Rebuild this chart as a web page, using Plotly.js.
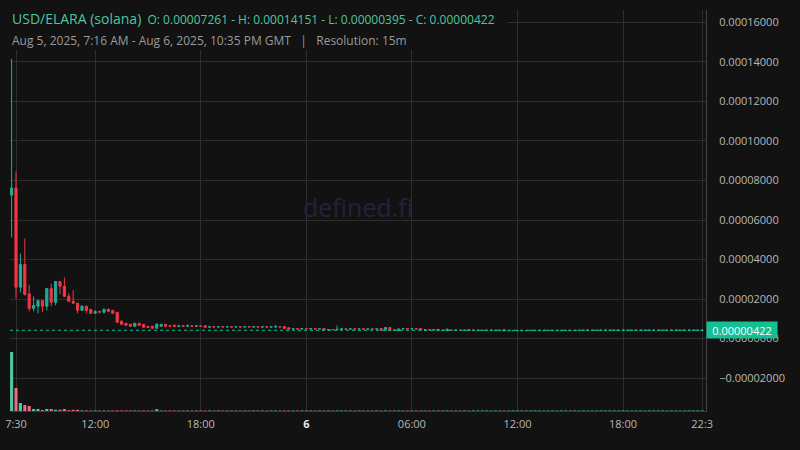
<!DOCTYPE html>
<html><head><meta charset="utf-8">
<script src="https://cdn.plot.ly/plotly-3.0.1.min.js"></script>
<style>html,body{margin:0;padding:0;background:#121212;}#chart{width:800px;height:450px;}</style>
</head><body><div id="chart"></div>
<script>
// 15-minute candles, Aug 5 2025 07:15 GMT onward
const firstCandle = Date.UTC(2025, 7, 5, 7, 15);
const resolutionMinutes = 15;

const openP = [
7.261e-5,7.62e-5,2.60e-5,3.75e-5,2.26e-5,1.53e-5,1.64e-5,1.92e-5,1.64e-5,2.53e-5,
1.84e-5,2.89e-5,2.65e-5,2.14e-5,1.89e-5,1.79e-5,1.43e-5,1.64e-5,1.48e-5,1.28e-5,
1.36e-5,1.33e-5,1.48e-5,1.43e-5,1.33e-5,8.76e-6,7.75e-6,7.24e-6,6.23e-6,7.75e-6,
7.24e-6,6.2e-6,6.23e-6,5.21e-6,6.23e-6,7.24e-6,6.5e-6,6.7e-6,6.3e-6,6.5e-6,
6.3e-6,6.5e-6,6.3e-6,6.4e-6,6.5e-6,5.8e-6,6.0e-6,5.9e-6,6.0e-6,5.9e-6,
6.0e-6,5.9e-6,6.0e-6,5.9e-6,6.0e-6,5.9e-6,6.0e-6,5.9e-6,5.95e-6,5.85e-6,
5.9e-6,6.0e-6,6.1e-6,5.5e-6,4.8e-6,5.0e-6,4.9e-6,5.0e-6,4.9e-6,5.0e-6,
4.9e-6,5.1e-6,4.4e-6,4.6e-6,4.5e-6,4.8e-6,4.9e-6,4.8e-6,4.9e-6,4.8e-6,
4.9e-6,4.8e-6,4.9e-6,4.8e-6,5.1e-6,4.3e-6,5.6e-6,4.2e-6,4.0e-6,4.9e-6,
5.0e-6,4.9e-6,5.0e-6,5.1e-6,4.4e-6,4.5e-6,4.4e-6,4.7e-6,4.1e-6,4.0e-6,
4.3e-6,4.2e-6,4.25e-6,4.2e-6,4.6e-6,4.15e-6,4.15e-6,4.15e-6,4.15e-6,4.15e-6,
4.15e-6,4.15e-6,4.5e-6,4.0e-6,4.0e-6,4.0e-6,4.15e-6,4.0e-6,4.05e-6,4.05e-6,
4.05e-6,4.05e-6,4.05e-6,4.05e-6,4.05e-6,4.05e-6,4.05e-6,4.2e-6,4.05e-6,4.15e-6,
4.2e-6,4.2e-6,4.2e-6,4.2e-6,4.2e-6,4.2e-6,4.2e-6,4.2e-6,4.2e-6,4.2e-6,
4.2e-6,4.2e-6,4.2e-6,4.2e-6,4.2e-6,4.2e-6,4.2e-6,4.2e-6,4.2e-6,4.2e-6,
4.2e-6,4.2e-6,4.2e-6,4.2e-6,4.2e-6,4.2e-6,4.2e-6,4.2e-6
];
const highP = [
1.4151e-4,8.46e-5,4.30e-5,5.06e-5,2.73e-5,2.13e-5,1.97e-5,1.94e-5,2.55e-5,2.78e-5,
2.91e-5,2.91e-5,3.09e-5,2.29e-5,2.45e-5,1.80e-5,1.69e-5,1.65e-5,1.49e-5,1.43e-5,
1.42e-5,1.53e-5,1.53e-5,1.44e-5,1.34e-5,9.27e-6,7.8e-6,7.3e-6,7.8e-6,7.8e-6,
7.3e-6,6.3e-6,6.3e-6,7.75e-6,7.3e-6,7.3e-6,6.6e-6,7.2e-6,6.6e-6,6.6e-6,
7.2e-6,6.6e-6,6.5e-6,6.5e-6,6.6e-6,6.1e-6,6.1e-6,6.1e-6,6.1e-6,6.1e-6,
6.1e-6,6.1e-6,6.1e-6,6.1e-6,6.1e-6,6.1e-6,6.1e-6,6.0e-6,6.0e-6,6.0e-6,
6.9e-6,6.1e-6,6.2e-6,5.6e-6,5.1e-6,5.1e-6,5.1e-6,5.1e-6,5.1e-6,5.1e-6,
5.1e-6,5.2e-6,4.7e-6,4.7e-6,6.6e-6,5.0e-6,5.0e-6,5.0e-6,5.0e-6,5.0e-6,
5.0e-6,5.0e-6,5.0e-6,5.0e-6,5.2e-6,5.7e-6,5.7e-6,4.4e-6,5.0e-6,5.1e-6,
5.1e-6,5.1e-6,5.1e-6,5.2e-6,4.6e-6,4.6e-6,4.6e-6,4.8e-6,4.3e-6,4.9e-6,
4.4e-6,4.3e-6,4.3e-6,4.3e-6,4.7e-6,4.25e-6,4.25e-6,4.25e-6,4.25e-6,4.25e-6,
4.25e-6,4.25e-6,4.6e-6,4.15e-6,4.15e-6,4.15e-6,4.2e-6,4.15e-6,4.2e-6,4.2e-6,
4.2e-6,4.2e-6,4.2e-6,4.2e-6,4.2e-6,4.2e-6,4.2e-6,4.25e-6,4.2e-6,4.25e-6,
4.25e-6,4.25e-6,4.25e-6,4.25e-6,4.25e-6,4.25e-6,4.25e-6,4.25e-6,4.25e-6,4.25e-6,
4.25e-6,4.25e-6,4.25e-6,4.25e-6,4.25e-6,4.25e-6,4.25e-6,4.25e-6,4.25e-6,4.25e-6,
4.25e-6,4.25e-6,4.25e-6,4.25e-6,4.25e-6,4.25e-6,4.25e-6,4.25e-6
];
const lowP = [
5.11e-5,2.04e-5,2.34e-5,2.18e-5,1.38e-5,1.38e-5,1.28e-5,1.33e-5,1.43e-5,1.64e-5,
1.69e-5,2.24e-5,2.09e-5,1.84e-5,1.77e-5,1.28e-5,1.42e-5,1.28e-5,1.27e-5,1.27e-5,
1.28e-5,1.28e-5,1.37e-5,1.27e-5,8.2e-6,7.1e-6,6.6e-6,6.1e-6,6.1e-6,6.6e-6,
5.6e-6,5.6e-6,5.1e-6,5.1e-6,6.1e-6,5.72e-6,6.1e-6,5.8e-6,6.2e-6,6.2e-6,
6.2e-6,6.2e-6,6.2e-6,6.1e-6,5.6e-6,5.7e-6,5.8e-6,5.8e-6,5.8e-6,5.8e-6,
5.8e-6,5.8e-6,5.8e-6,5.8e-6,5.8e-6,5.8e-6,5.8e-6,5.8e-6,5.8e-6,5.8e-6,
5.8e-6,5.8e-6,5.1e-6,4.6e-6,4.7e-6,4.8e-6,4.8e-6,4.8e-6,4.8e-6,4.8e-6,
4.8e-6,4.2e-6,4.3e-6,4.4e-6,4.4e-6,4.7e-6,4.7e-6,4.7e-6,4.7e-6,4.7e-6,
4.7e-6,4.7e-6,4.7e-6,4.7e-6,4.1e-6,4.2e-6,4.1e-6,4.1e-6,3.98e-6,4.8e-6,
4.8e-6,4.8e-6,4.8e-6,4.2e-6,4.3e-6,4.3e-6,4.3e-6,4.0e-6,4.0e-6,3.98e-6,
4.1e-6,4.1e-6,4.1e-6,4.1e-6,4.0e-6,4.1e-6,4.1e-6,4.1e-6,4.1e-6,4.1e-6,
4.1e-6,4.1e-6,3.95e-6,3.98e-6,3.98e-6,3.98e-6,3.98e-6,3.98e-6,4.0e-6,4.0e-6,
4.0e-6,4.0e-6,4.0e-6,4.0e-6,4.0e-6,4.0e-6,4.0e-6,4.0e-6,4.0e-6,4.1e-6,
4.18e-6,4.18e-6,4.18e-6,4.18e-6,4.18e-6,4.18e-6,4.18e-6,4.18e-6,4.18e-6,4.18e-6,
4.18e-6,4.18e-6,4.18e-6,4.18e-6,4.18e-6,4.18e-6,4.18e-6,4.18e-6,4.18e-6,4.18e-6,
4.18e-6,4.18e-6,4.18e-6,4.18e-6,4.18e-6,4.18e-6,4.18e-6,4.18e-6
];
const closeP = [
7.62e-5,2.60e-5,3.75e-5,2.23e-5,1.53e-5,1.67e-5,1.92e-5,1.64e-5,2.53e-5,1.84e-5,
2.89e-5,2.65e-5,2.14e-5,1.89e-5,1.79e-5,1.43e-5,1.64e-5,1.43e-5,1.28e-5,1.38e-5,
1.35e-5,1.48e-5,1.38e-5,1.28e-5,8.25e-6,7.24e-6,6.73e-6,6.23e-6,7.75e-6,6.73e-6,
5.72e-6,5.72e-6,5.21e-6,7.24e-6,7.24e-6,6.23e-6,6.23e-6,6.3e-6,6.5e-6,6.3e-6,
6.5e-6,6.3e-6,6.4e-6,6.2e-6,5.7e-6,6.0e-6,5.9e-6,6.0e-6,5.9e-6,6.0e-6,
5.9e-6,6.0e-6,5.9e-6,6.0e-6,5.9e-6,6.0e-6,5.9e-6,5.95e-6,5.85e-6,5.95e-6,
6.0e-6,5.9e-6,5.2e-6,4.7e-6,5.0e-6,4.9e-6,5.0e-6,4.9e-6,5.0e-6,4.9e-6,
5.0e-6,4.3e-6,4.6e-6,4.5e-6,4.7e-6,4.9e-6,4.8e-6,4.9e-6,4.8e-6,4.9e-6,
4.8e-6,4.9e-6,4.8e-6,4.9e-6,4.2e-6,5.6e-6,4.2e-6,4.3e-6,4.9e-6,5.0e-6,
4.9e-6,5.0e-6,4.9e-6,4.3e-6,4.5e-6,4.4e-6,4.5e-6,4.1e-6,4.2e-6,4.8e-6,
4.2e-6,4.25e-6,4.2e-6,4.25e-6,4.1e-6,4.2e-6,4.2e-6,4.2e-6,4.2e-6,4.2e-6,
4.2e-6,4.2e-6,3.97e-6,4.1e-6,4.1e-6,4.1e-6,4.0e-6,4.1e-6,4.15e-6,4.15e-6,
4.15e-6,4.15e-6,4.15e-6,4.15e-6,4.15e-6,4.15e-6,4.15e-6,4.05e-6,4.15e-6,4.2e-6,
4.22e-6,4.22e-6,4.22e-6,4.22e-6,4.22e-6,4.22e-6,4.22e-6,4.22e-6,4.22e-6,4.22e-6,
4.22e-6,4.22e-6,4.22e-6,4.22e-6,4.22e-6,4.22e-6,4.22e-6,4.22e-6,4.22e-6,4.22e-6,
4.22e-6,4.22e-6,4.22e-6,4.22e-6,4.22e-6,4.22e-6,4.22e-6,4.22e-6
];
const volume = [
59,23,8,6,5,2,2,1,2,2,1.2,1.2,2,0.8,1.2,1.2,0.6,0.6,0.5,0.5,
0.5,0.5,0.5,0.5,0.6,0.5,0.5,0.5,0.5,0.5,0.5,0.5,0.5,1.8,0.5,0.5,0.5,0.5,0.5,0.5,
0.5,0.5,0.5,0.5,0.5,0.5,0.5,0.5,0.5,0.5,0.5,0.5,0.5,0.5,0.5,0.5,0.5,0.5,0.5,0.5,
0.5,0.5,0.5,0.5,0.5,0.5,0.5,0.5,0.5,0.5,0.5,0.5,0.5,0.5,0.5,0.5,0.5,0.5,0.5,0.5,
0.5,0.5,0.5,0.5,0.5,0.5,0.5,0.5,0.5,0.5,0.5,0.5,0.5,0.5,0.5,0.5,0.5,0.5,0.5,0.5,
0.5,0.5,0.5,0.5,0.5,0.5,0.5,0.5,0.5,0.5,0.5,0.5,0.5,0.5,0.5,0.5,0.5,0.5,0.5,0.5,
0.5,0.5,0.5,0.5,0.5,0.5,0.5,0.5,0.5,0.5,0.5,0.5,0.5,0.5,0.5,0.5,0.5,0.5,0.5,0.5,
0.5,0.5,0.5,0.5,0.5,0.5,0.5,0.5,0.5,0.5,0.5,0.5,0.5,0.5,0.5,0.5,0.5,0.5
];
const tickVals = ['2025-08-05 07:30','2025-08-05 12:00','2025-08-05 18:00','2025-08-06 00:00',
                  '2025-08-06 06:00','2025-08-06 12:00','2025-08-06 18:00','2025-08-06 22:30'];
const tickText = ['7:30','12:00','18:00','<span style="color:#e8e8e8"><b>6</b></span>','06:00','12:00','18:00','22:3'];
const lastClose = 4.22e-6;
const lastCloseLabel = '0.00000422';

const times = openP.map((_, i) => new Date(firstCandle + i * resolutionMinutes * 60000)
  .toISOString().slice(0, 19).replace('T', ' '));
const volColors = openP.map((o, i) => closeP[i] >= o ? '#4fc8a3' : '#ea6a7e');

const GREEN = '#22ab94', RED = '#f23645', BG = '#121212', GRID = '#2e2e2e';

const traces = [
  { type: 'bar', x: times, y: volume, yaxis: 'y2', marker: { color: volColors, line: { width: 0 } }, hoverinfo: 'skip' },
  { type: 'candlestick', x: times, open: openP, high: highP, low: lowP, close: closeP,
    increasing: { line: { color: GREEN, width: 1 }, fillcolor: GREEN },
    decreasing: { line: { color: RED, width: 1 }, fillcolor: RED },
    whiskerwidth: 0, hoverinfo: 'skip' }
];

const layout = {
  width: 800, height: 450,
  paper_bgcolor: BG, plot_bgcolor: BG,
  margin: { l: 10, r: 94, t: 10, b: 39 },
  showlegend: false,
  bargap: 0.3,
  font: { family: 'Open Sans, Noto Sans, sans-serif', color: '#b8b8b8', size: 11 },
  xaxis: {
    type: 'date', range: ['2025-08-05 07:09:30', '2025-08-06 22:43:00'],
    tickmode: 'array', tickvals: tickVals, ticktext: tickText,
    showgrid: true, gridcolor: GRID, gridwidth: 1, zeroline: false,
    showline: true, linecolor: '#3a3a3a', ticks: '', ticklabelstandoff: 3,
    rangeslider: { visible: false }, tickfont: { size: 11, color: '#b8b8b8' }
  },
  yaxis: {
    side: 'right', range: [-3.663e-5, 1.6627e-4], tick0: 0, dtick: 2e-5, tickformat: '.8f',
    showgrid: true, gridcolor: GRID, zeroline: false, showline: true, linecolor: '#444',
    ticks: '', ticklabelstandoff: 10, tickfont: { size: 11, color: '#b8b8b8' }
  },
  yaxis2: { overlaying: 'y', range: [0, 401], visible: false, showgrid: false },
  shapes: [
    { type: 'rect', xref: 'paper', yref: 'paper', x0: 0, x1: 0.714, y0: 0.9, y1: 1,
      fillcolor: BG, line: { width: 0 }, layer: 'above' },
    { type: 'line', xref: 'paper', yref: 'y', x0: 0, x1: 1, y0: lastClose, y1: lastClose,
      line: { color: '#13bf93', width: 1, dash: '3px,3px' }, layer: 'above' }
  ],
  annotations: [
    { xref: 'paper', yref: 'paper', x: 0, y: 0.9776, xanchor: 'left', yanchor: 'middle', showarrow: false,
      text: '<span style="font-size:14px">USD/ELARA (solana)</span>  O: 0.00007261 - H: 0.00014151 - L: 0.00000395 - C: 0.00000422',
      font: { size: 12, color: '#4cc6a2' } },
    { xref: 'paper', yref: 'paper', x: 0, y: 0.9227, xanchor: 'left', yanchor: 'middle', showarrow: false,
      text: 'Aug 5, 2025, 7:16 AM - Aug 6, 2025, 10:35 PM GMT\u00a0\u00a0\u00a0|\u00a0\u00a0\u00a0Resolution: 15m',
      font: { size: 12, color: '#9a9a9a' } },
    { xref: 'paper', yref: 'paper', x: 0.5, y: 0.508, xanchor: 'center', yanchor: 'middle', showarrow: false,
      text: 'defined.fi', font: { size: 25, color: '#23223d' } },
    { xref: 'paper', yref: 'y', x: 1, y: lastClose, xanchor: 'left', yanchor: 'middle', showarrow: false,
      text: lastCloseLabel, bgcolor: '#13bf93', font: { size: 11, color: '#ffffff' },
      width: 68, height: 14, borderpad: 1 }
  ]
};

Plotly.newPlot('chart', traces, layout, { staticPlot: true, displayModeBar: false });
</script>
</body></html>
